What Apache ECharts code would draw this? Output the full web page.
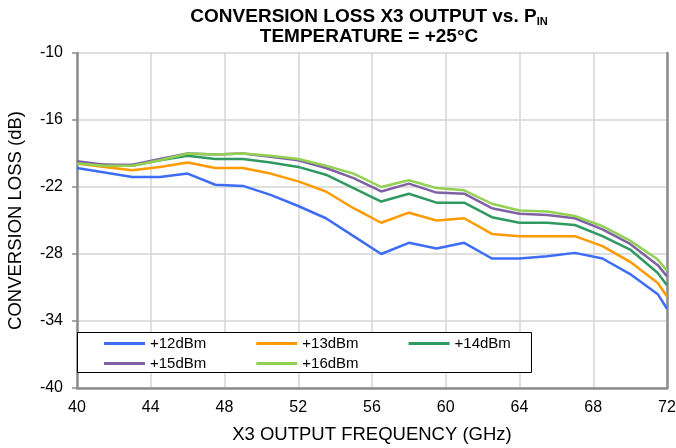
<!DOCTYPE html>
<html>
<head>
<meta charset="utf-8">
<script src="https://cdn.jsdelivr.net/npm/echarts@6/dist/echarts.min.js"></script>
<style>
  html, body { margin: 0; padding: 0; background: #fff; }
  #main { width: 676px; height: 448px; }
</style>
</head>
<body>
<div id="main"></div>
<script>
// frequencies (GHz)
var freq = [40, 41.5, 43, 44.5, 46, 47.5, 49, 50.5, 52, 53.5, 55, 56.5, 58, 59.5, 61, 62.5, 64, 65.5, 67, 68.5, 70, 71.5, 72];

// conversion loss (dB) per input power
var p12 = [-20.3, -20.7, -21.1, -21.1, -20.8, -21.8, -21.9, -22.7, -23.7, -24.8, -26.4, -28.0, -27.0, -27.5, -27.0, -28.4, -28.4, -28.2, -27.9, -28.4, -29.8, -31.6, -32.9];
var p13 = [-19.9, -20.2, -20.5, -20.2, -19.8, -20.3, -20.3, -20.8, -21.5, -22.4, -23.9, -25.2, -24.3, -25.0, -24.8, -26.2, -26.4, -26.4, -26.4, -27.3, -28.7, -30.6, -31.8];
var p14 = [-19.9, -20.0, -20.1, -19.6, -19.2, -19.5, -19.5, -19.8, -20.2, -20.9, -22.1, -23.3, -22.6, -23.4, -23.4, -24.7, -25.2, -25.2, -25.4, -26.4, -27.6, -29.7, -30.8];
var p15 = [-19.7, -20.0, -20.0, -19.5, -19.0, -19.1, -19.0, -19.3, -19.6, -20.3, -21.2, -22.4, -21.7, -22.5, -22.6, -23.9, -24.4, -24.5, -24.8, -25.8, -27.1, -29.0, -30.0];
var p16 = [-19.9, -20.1, -20.1, -19.6, -19.0, -19.1, -19.0, -19.2, -19.5, -20.1, -20.8, -22.0, -21.4, -22.1, -22.3, -23.5, -24.1, -24.2, -24.6, -25.5, -26.8, -28.5, -29.5];

var names = ['+12dBm', '+13dBm', '+14dBm', '+15dBm', '+16dBm'];
var colors = ['#3d6cf6', '#ff9a00', '#2f9960', '#8061a6', '#93d150'];

function pairs(vals) {
  return freq.map(function (f, i) { return [f, vals[i]]; });
}

var myChart = echarts.init(document.getElementById('main'));
var font = 'Arial, "Liberation Sans", sans-serif';

var series = [p12, p13, p14, p15, p16].map(function (vals, i) {
  return {
    name: names[i],
    type: 'line',
    data: pairs(vals),
    showSymbol: false,
    symbol: 'none',
    lineStyle: { width: 2.5, color: colors[i] },
    itemStyle: { color: colors[i] },
    z: 3 + i
  };
});

var legendText = { fontFamily: font, fontSize: 15, color: '#000' };

var option = {
  animation: false,
  backgroundColor: '#fff',
  title: {
    text: '{a|CONVERSION LOSS X3 OUTPUT vs. P}{s|IN}\n{a|TEMPERATURE = +25°C}',
    left: 364,
    top: 2,
    textAlign: 'center',
    textStyle: {
      rich: {
        a: { fontFamily: font, fontWeight: 'bold', fontSize: 19, color: '#000', lineHeight: 20 },
        s: { fontFamily: font, fontWeight: 'bold', fontSize: 11, color: '#000', verticalAlign: 'bottom', lineHeight: 20, padding: [9, 0, 0, 0] }
      }
    }
  },
  grid: { left: 77, right: 9, top: 53, bottom: 60, outerBoundsMode: 'none' },
  legend: [
    {
      data: names.slice(0, 3),
      left: 104, top: 336, z: 20, padding: 0,
      itemWidth: 41, itemHeight: 3, itemGap: 50,
      icon: 'rect',
      textStyle: legendText
    },
    {
      data: names.slice(3),
      left: 104, top: 356, z: 20, padding: 0,
      itemWidth: 41, itemHeight: 3, itemGap: 50,
      icon: 'rect',
      textStyle: legendText
    }
  ],
  graphic: [{
    type: 'rect',
    shape: { x: 77.5, y: 332.5, width: 454, height: 40 },
    style: { fill: '#fff', stroke: '#000', lineWidth: 1 },
    z: 10
  }],
  xAxis: {
    type: 'value',
    min: 40, max: 72, interval: 4,
    name: 'X3 OUTPUT FREQUENCY (GHz)',
    nameLocation: 'middle',
    nameGap: 37,
    nameTextStyle: { fontFamily: font, fontSize: 18.5, color: '#000' },
    axisLine: { lineStyle: { color: '#8c8c8c', width: 2.5 } },
    axisTick: { show: false },
    axisLabel: { fontFamily: font, fontSize: 16, color: '#000', margin: 12 },
    splitLine: { show: true, lineStyle: { color: '#d4d4d4', width: 1.5 } }
  },
  yAxis: [
    {
      type: 'value',
      min: -40, max: -10, interval: 6,
      name: 'CONVERSION LOSS (dB)',
      nameLocation: 'middle',
      nameGap: 52,
      nameTextStyle: { fontFamily: font, fontSize: 18.5, color: '#000' },
      axisLine: { show: true, onZero: false, lineStyle: { color: '#8c8c8c', width: 2.5 } },
      axisTick: { show: true, length: 5, lineStyle: { color: '#8c8c8c', width: 1.5 } },
      axisLabel: { fontFamily: font, fontSize: 16, color: '#000', margin: 14 },
      splitLine: { show: true, lineStyle: { color: '#d4d4d4', width: 1.5 } }
    },
    {
      type: 'value',
      position: 'right',
      min: -40, max: -10, interval: 6,
      axisLine: { show: true, onZero: false, lineStyle: { color: '#8c8c8c', width: 2.5 } },
      axisTick: { show: false },
      axisLabel: { show: false },
      splitLine: { show: false }
    }
  ],
  series: series
};

myChart.setOption(option);
</script>
</body>
</html>
